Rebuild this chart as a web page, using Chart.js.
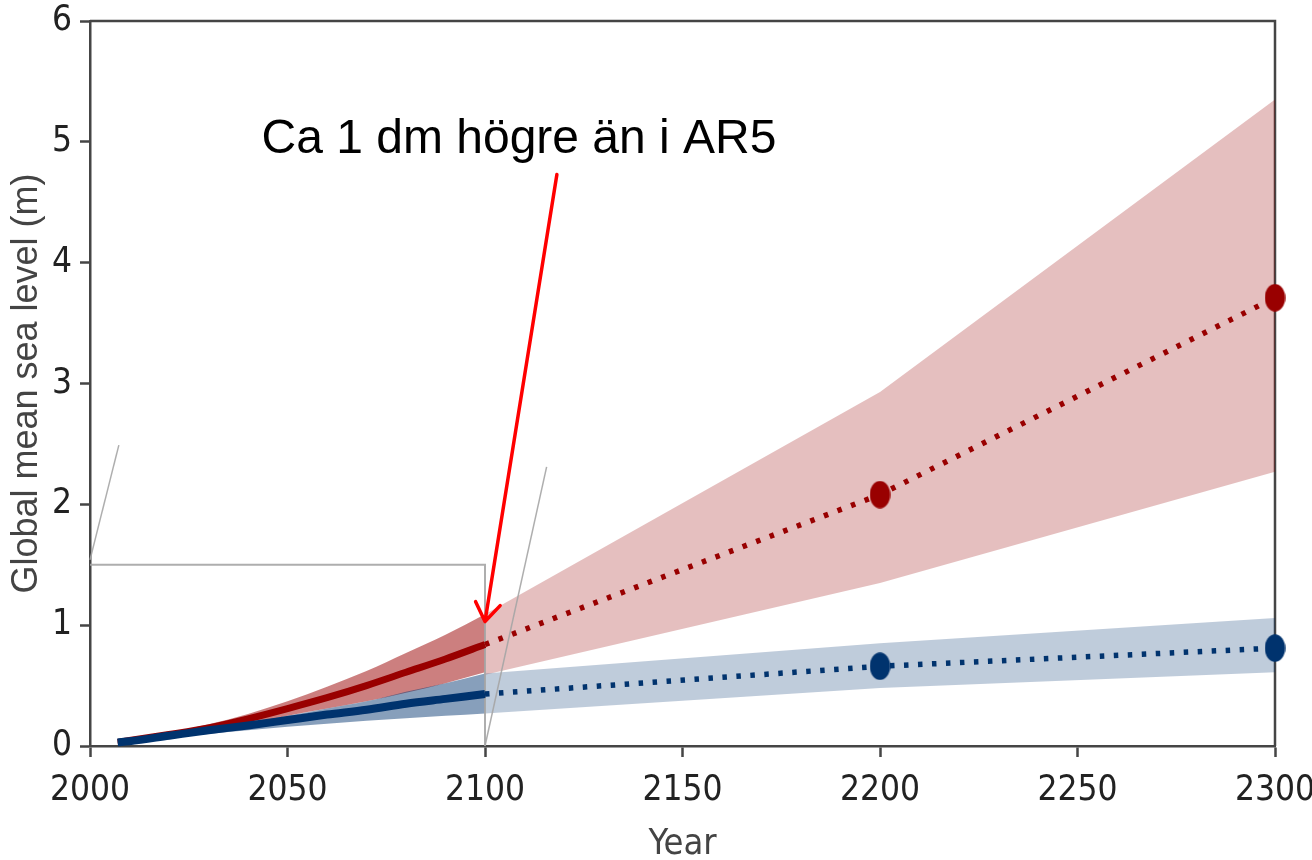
<!DOCTYPE html>
<html>
<head>
<meta charset="utf-8">
<script src="https://cdn.jsdelivr.net/npm/chart.js@4.4.1/dist/chart.umd.min.js"></script>
<style>
  html, body { margin: 0; padding: 0; background: #ffffff; }
  #wrap { width: 1312px; height: 860px; }
</style>
</head>
<body>
<div id="wrap"><canvas id="c" width="1312" height="860"></canvas></div>
<script>
// ---- Data ----
const nearYears      = [2007, 2010, 2020, 2030, 2040, 2050, 2060, 2070, 2080, 2090, 2100];
const redNearMedian  = [0.03, 0.045, 0.095, 0.15, 0.225, 0.31, 0.40, 0.50, 0.61, 0.72, 0.84];
const redNearLow     = [0.02, 0.035, 0.08, 0.12, 0.18, 0.25, 0.31, 0.37, 0.44, 0.52, 0.61];
const redNearHigh    = [0.04, 0.055, 0.11, 0.18, 0.265, 0.37, 0.49, 0.62, 0.77, 0.92, 1.09];
const blueNearMedian = [0.03, 0.04, 0.085, 0.13, 0.17, 0.215, 0.26, 0.30, 0.35, 0.39, 0.43];
const blueNearLow    = [0.02, 0.03, 0.07, 0.10, 0.13, 0.16, 0.185, 0.21, 0.23, 0.25, 0.27];
const blueNearHigh   = [0.035, 0.045, 0.09, 0.14, 0.19, 0.25, 0.31, 0.37, 0.45, 0.52, 0.60];

const farYears       = [2100, 2200, 2300];
const redFarMedian   = [0.84, 2.08, 3.71];
const redFarLow      = [0.59, 1.35, 2.27];
const redFarHigh     = [1.09, 2.93, 5.35];
const blueFarMedian  = [0.43, 0.66, 0.81];
const blueFarLow     = [0.27, 0.48, 0.61];
const blueFarHigh    = [0.60, 0.85, 1.06];

// inset indicator lines (grey)
const insetBoxX  = [2000, 2100, 2100];
const insetBoxY  = [1.5, 1.5, 0];
const insetDiag1X = [2000, 2007.3];
const insetDiag1Y = [1.54, 2.49];
const insetDiag2X = [2100, 2115.6];
const insetDiag2Y = [0, 2.31];

const xTicks = [2000, 2050, 2100, 2150, 2200, 2250, 2300];
const yTicks = [0, 1, 2, 3, 4, 5, 6];

const annotationText = 'Ca 1 dm högre än i AR5';
const xTitle = 'Year';
const yTitle = 'Global mean sea level (m)';

// ---- helpers ----
const zip = (xs, ys) => xs.map((x, i) => ({ x: x, y: ys[i] }));
const RED = '#990000';
const BLUE = '#00336e';
function ellipseMarker(color) {
  const c = document.createElement('canvas');
  c.width = 21; c.height = 28;
  const g = c.getContext('2d');
  g.fillStyle = color;
  g.beginPath();
  g.ellipse(10.5, 14, 10.2, 13.7, 0, 0, Math.PI * 2);
  g.fill();
  return c;
}
const redDot = ellipseMarker(RED);
const blueDot = ellipseMarker(BLUE);

const base = { pointRadius: 0, pointHoverRadius: 0, fill: false, clip: false };
const GREY = 'rgba(165,165,165,0.9)';
const NONE = 'rgba(0,0,0,0)';

const datasets = [
  // medians on top
  Object.assign({}, base, { data: zip(nearYears, blueNearMedian), borderColor: BLUE, borderWidth: 8, cubicInterpolationMode: 'monotone', borderCapStyle: 'butt' }),
  Object.assign({}, base, { data: zip(nearYears, redNearMedian), borderColor: RED, borderWidth: 7, cubicInterpolationMode: 'monotone', borderCapStyle: 'butt' }),
  Object.assign({}, base, { data: zip(farYears, blueFarMedian), borderColor: BLUE, borderWidth: 5.5, borderDash: [4.5, 9.5], pointStyle: blueDot, pointRadius: [0, 10, 10] }),
  Object.assign({}, base, { data: zip(farYears, redFarMedian), borderColor: RED, borderWidth: 5.5, borderDash: [4.5, 10], pointStyle: redDot, pointRadius: [0, 10, 10] }),
  // grey inset indicator lines
  Object.assign({}, base, { data: zip(insetBoxX, insetBoxY), borderColor: GREY, borderWidth: 2 }),
  Object.assign({}, base, { data: zip(insetDiag1X, insetDiag1Y), borderColor: GREY, borderWidth: 1.5 }),
  Object.assign({}, base, { data: zip(insetDiag2X, insetDiag2Y), borderColor: GREY, borderWidth: 1.5 }),
  // bands (lower: no fill, upper: fill to previous)
  Object.assign({}, base, { data: zip(nearYears, blueNearLow), borderWidth: 0, borderColor: NONE, cubicInterpolationMode: 'monotone' }),
  Object.assign({}, base, { data: zip(nearYears, blueNearHigh), borderWidth: 0, borderColor: NONE, cubicInterpolationMode: 'monotone', fill: '-1', backgroundColor: 'rgba(0,51,110,0.47)' }),
  Object.assign({}, base, { data: zip(nearYears, redNearLow), borderWidth: 0, borderColor: NONE, cubicInterpolationMode: 'monotone' }),
  Object.assign({}, base, { data: zip(nearYears, redNearHigh), borderWidth: 0, borderColor: NONE, cubicInterpolationMode: 'monotone', fill: '-1', backgroundColor: 'rgba(153,0,0,0.5)' }),
  Object.assign({}, base, { data: zip(farYears, blueFarLow), borderWidth: 0, borderColor: NONE }),
  Object.assign({}, base, { data: zip(farYears, blueFarHigh), borderWidth: 0, borderColor: NONE, fill: '-1', backgroundColor: 'rgba(0,51,110,0.25)' }),
  Object.assign({}, base, { data: zip(farYears, redFarLow), borderWidth: 0, borderColor: NONE }),
  Object.assign({}, base, { data: zip(farYears, redFarHigh), borderWidth: 0, borderColor: NONE, fill: '-1', backgroundColor: 'rgba(153,0,0,0.25)' })
];

const AXIS = '#454545';
const condFamily = '"DejaVu Sans Condensed", "DejaVu Sans", sans-serif';
const tickFont = { family: condFamily, size: 35 };

function zeroPadding(s) {
  s.paddingTop = 0; s.paddingBottom = 0; s.paddingLeft = 0; s.paddingRight = 0;
}

const framePlugin = {
  id: 'frame',
  beforeDatasetsDraw(chart) {
    const { ctx, chartArea: a } = chart;
    ctx.save();
    ctx.strokeStyle = AXIS;
    ctx.lineWidth = 2.5;
    ctx.beginPath();
    ctx.moveTo(a.left, a.top);
    ctx.lineTo(a.right, a.top);
    ctx.lineTo(a.right, a.bottom);
    ctx.stroke();
    ctx.restore();
  },
  afterDraw(chart) {
    const { ctx, scales: { x, y } } = chart;
    ctx.save();
    // annotation text
    ctx.fillStyle = '#000000';
    ctx.font = '48px "Liberation Sans", Arial, sans-serif';
    ctx.textAlign = 'center';
    ctx.textBaseline = 'alphabetic';
    ctx.fillText(annotationText, x.getPixelForValue(2108.6), y.getPixelForValue(4.91));
    // arrow
    const x0 = x.getPixelForValue(2118.2), y0 = y.getPixelForValue(4.73);
    const x1 = x.getPixelForValue(2100), y1 = y.getPixelForValue(1.03);
    ctx.strokeStyle = '#ff0000';
    ctx.lineWidth = 3.5;
    ctx.lineCap = 'round';
    ctx.lineJoin = 'round';
    ctx.beginPath();
    ctx.moveTo(x0, y0);
    ctx.lineTo(x1, y1);
    const ang = Math.atan2(y0 - y1, x0 - x1);
    const L = 22, spread = 0.6;
    ctx.moveTo(x1 + L * Math.cos(ang + spread), y1 + L * Math.sin(ang + spread));
    ctx.lineTo(x1, y1);
    ctx.lineTo(x1 + L * Math.cos(ang - spread), y1 + L * Math.sin(ang - spread));
    ctx.stroke();
    ctx.restore();
  }
};

new Chart(document.getElementById('c'), {
  type: 'line',
  data: { datasets: datasets },
  plugins: [framePlugin],
  options: {
    responsive: false,
    animation: false,
    events: [],
    layout: { padding: { top: 21, right: 37, left: 0, bottom: 0 } },
    plugins: { legend: { display: false }, tooltip: { enabled: false } },
    scales: {
      x: {
        type: 'linear',
        min: 2000, max: 2300,
        afterBuildTicks: (s) => { s.ticks = xTicks.map(v => ({ value: v })); },
        afterFit: (s) => { s.height = 114; zeroPadding(s); },
        ticks: { color: '#222', font: tickFont, padding: 13, maxRotation: 0, autoSkip: false, callback: (v) => String(v) },
        grid: { display: true, drawOnChartArea: false, drawTicks: true, tickLength: 11, tickWidth: 2.5, tickColor: AXIS },
        border: { display: true, color: AXIS, width: 2.5 },
        title: { display: true, text: xTitle, color: '#444', font: { family: condFamily, size: 36 }, padding: { top: 0, bottom: -6 } }
      },
      y: {
        type: 'linear',
        min: 0, max: 6,
        afterBuildTicks: (s) => { s.ticks = yTicks.map(v => ({ value: v })); },
        afterFit: (s) => { s.width = 90; zeroPadding(s); },
        ticks: { color: '#222', font: tickFont, padding: 8, autoSkip: false, callback: (v) => String(v) },
        grid: { display: true, drawOnChartArea: false, drawTicks: true, tickLength: 10, tickWidth: 2.5, tickColor: AXIS },
        border: { display: true, color: AXIS, width: 2.5 },
        title: { display: true, text: yTitle, color: '#444', font: { family: '"Liberation Sans", Arial, sans-serif', size: 36 }, padding: { top: 5, bottom: 0 } }
      }
    }
  }
});
</script>
</body>
</html>
